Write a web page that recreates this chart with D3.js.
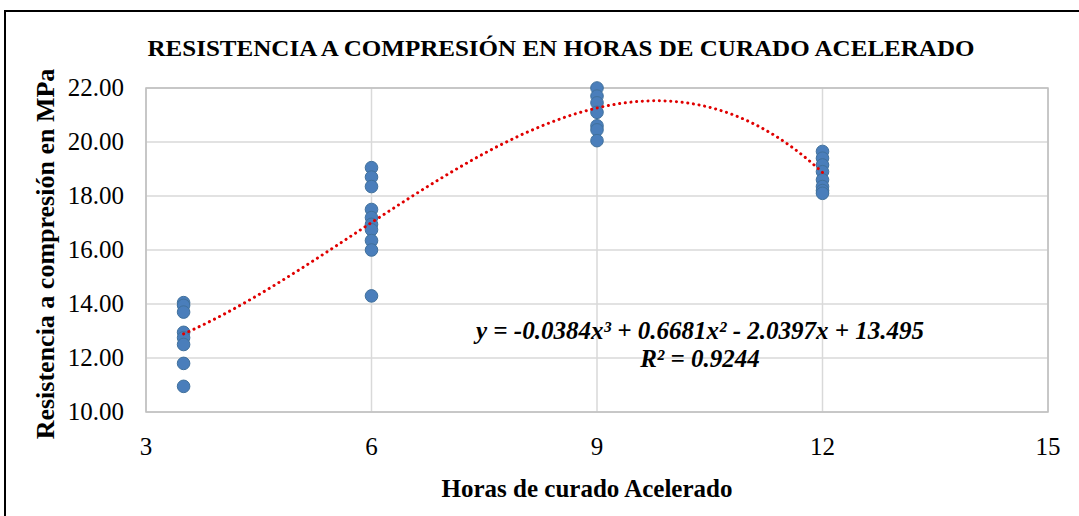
<!DOCTYPE html>
<html>
<head>
<meta charset="utf-8">
<script src="https://cdn.jsdelivr.net/npm/d3@7"></script>
<style>
  body { margin: 0; background: #fff; }
  text { font-family: "Liberation Serif", "Times New Roman", serif; fill: #000; }
</style>
</head>
<body>
<svg width="1079" height="516"></svg>
<script>
// datos
const horas = [3.5, 6, 9, 12];
const resistencia = [
    [14.05, 13.95, 13.7, 12.95, 12.75, 12.5, 11.8, 10.95],
    [19.05, 18.7, 18.35, 17.5, 17.2, 16.95, 16.75, 16.35, 16.0, 14.3],
    [22.0, 21.7, 21.45, 21.1, 20.6, 20.45, 20.05],
    [19.65, 19.4, 19.15, 18.9, 18.6, 18.35, 18.2, 18.1]
];
const xTicks = [3, 6, 9, 12, 15];
const yTicks = [10, 12, 14, 16, 18, 20, 22];
// coeficientes de la linea de tendencia (c0 + c1 x + c2 x^2 + c3 x^3)
const trendCoef = [13.495, -2.0397, 0.6681, -0.0384];
const trendRange = [3.5, 12];
const eqText = "y = -0.0384x³ + 0.6681x² - 2.0397x + 13.495";
const r2Text = "R² = 0.9244";

const svg = d3.select("svg");
const plot = {left: 146, right: 1048, top: 88, bottom: 412};

const data = [];
horas.forEach((h, i) => resistencia[i].forEach(v => data.push({h: h, v: v})));

const xScale = d3.scaleLinear().domain([3, 15]).range([plot.left, plot.right]);
const yScale = d3.scaleLinear().domain([10, 22]).range([plot.bottom, plot.top]);

// marco exterior
svg.append("rect")
    .attr("x", 5).attr("y", 11)
    .attr("width", 1200).attr("height", 600)
    .attr("fill", "none")
    .attr("stroke", "#000")
    .attr("stroke-width", 2);

// cuadricula
const grid = svg.append("g");
grid.selectAll(".gy").data(yTicks).join("line")
    .attr("x1", plot.left).attr("x2", plot.right)
    .attr("y1", d => yScale(d)).attr("y2", d => yScale(d))
    .attr("stroke", "#d9d9d9").attr("stroke-width", 1.5);
grid.selectAll(".gx").data(xTicks).join("line")
    .attr("x1", d => xScale(d)).attr("x2", d => xScale(d))
    .attr("y1", plot.top).attr("y2", plot.bottom)
    .attr("stroke", "#d9d9d9").attr("stroke-width", 1.5);
svg.append("rect")
    .attr("x", plot.left).attr("y", plot.top)
    .attr("width", plot.right - plot.left).attr("height", plot.bottom - plot.top)
    .attr("fill", "none").attr("stroke", "#bfbfbf").attr("stroke-width", 1.5);

// etiquetas de ejes
svg.append("g").selectAll("text").data(yTicks).join("text")
    .attr("x", 124)
    .attr("y", d => yScale(d) + 8)
    .attr("text-anchor", "end")
    .style("font-size", "25px")
    .text(d => d3.format(".2f")(d));

svg.append("g").selectAll("text").data(xTicks).join("text")
    .attr("x", d => xScale(d))
    .attr("y", 455)
    .attr("text-anchor", "middle")
    .style("font-size", "25px")
    .text(d => d);

// puntos
svg.append("g").selectAll("circle").data(data).join("circle")
    .attr("cx", d => xScale(d.h))
    .attr("cy", d => yScale(d.v))
    .attr("r", 6.3)
    .attr("fill", "#4a7ebb")
    .attr("stroke", "#41719c")
    .attr("stroke-width", 1);

// linea de tendencia polinomica
const poly = x => trendCoef.reduce((s, c, i) => s + c * Math.pow(x, i), 0);
const trendPts = d3.range(trendRange[0], trendRange[1] + 0.001, 0.05).map(x => [x, poly(x)]);
svg.append("path")
    .datum(trendPts)
    .attr("d", d3.line().x(d => xScale(d[0])).y(d => yScale(d[1])))
    .attr("fill", "none")
    .attr("stroke", "#e00000")
    .attr("stroke-width", 3)
    .attr("stroke-linecap", "round")
    .attr("stroke-dasharray", "0.1 5.6");

// ecuacion
svg.append("text")
    .attr("x", 700).attr("y", 339)
    .attr("text-anchor", "middle")
    .style("font-size", "25px").style("font-weight", "bold").style("font-style", "italic")
    .text(eqText);
svg.append("text")
    .attr("x", 700).attr("y", 367)
    .attr("text-anchor", "middle")
    .style("font-size", "25px").style("font-weight", "bold").style("font-style", "italic")
    .text(r2Text);

// titulos
svg.append("text")
    .attr("x", 561).attr("y", 56)
    .attr("text-anchor", "middle")
    .attr("textLength", 827)
    .attr("lengthAdjust", "spacingAndGlyphs")
    .style("font-size", "23px").style("font-weight", "bold")
    .text("RESISTENCIA A COMPRESIÓN EN HORAS  DE CURADO ACELERADO");

svg.append("text")
    .attr("x", 587).attr("y", 497)
    .attr("text-anchor", "middle")
    .style("font-size", "25px").style("font-weight", "bold")
    .text("Horas de curado Acelerado");

svg.append("text")
    .attr("transform", "translate(54,254) rotate(-90)")
    .attr("text-anchor", "middle")
    .style("font-size", "26px").style("font-weight", "bold")
    .text("Resistencia a compresión en MPa");
</script>
</body>
</html>
